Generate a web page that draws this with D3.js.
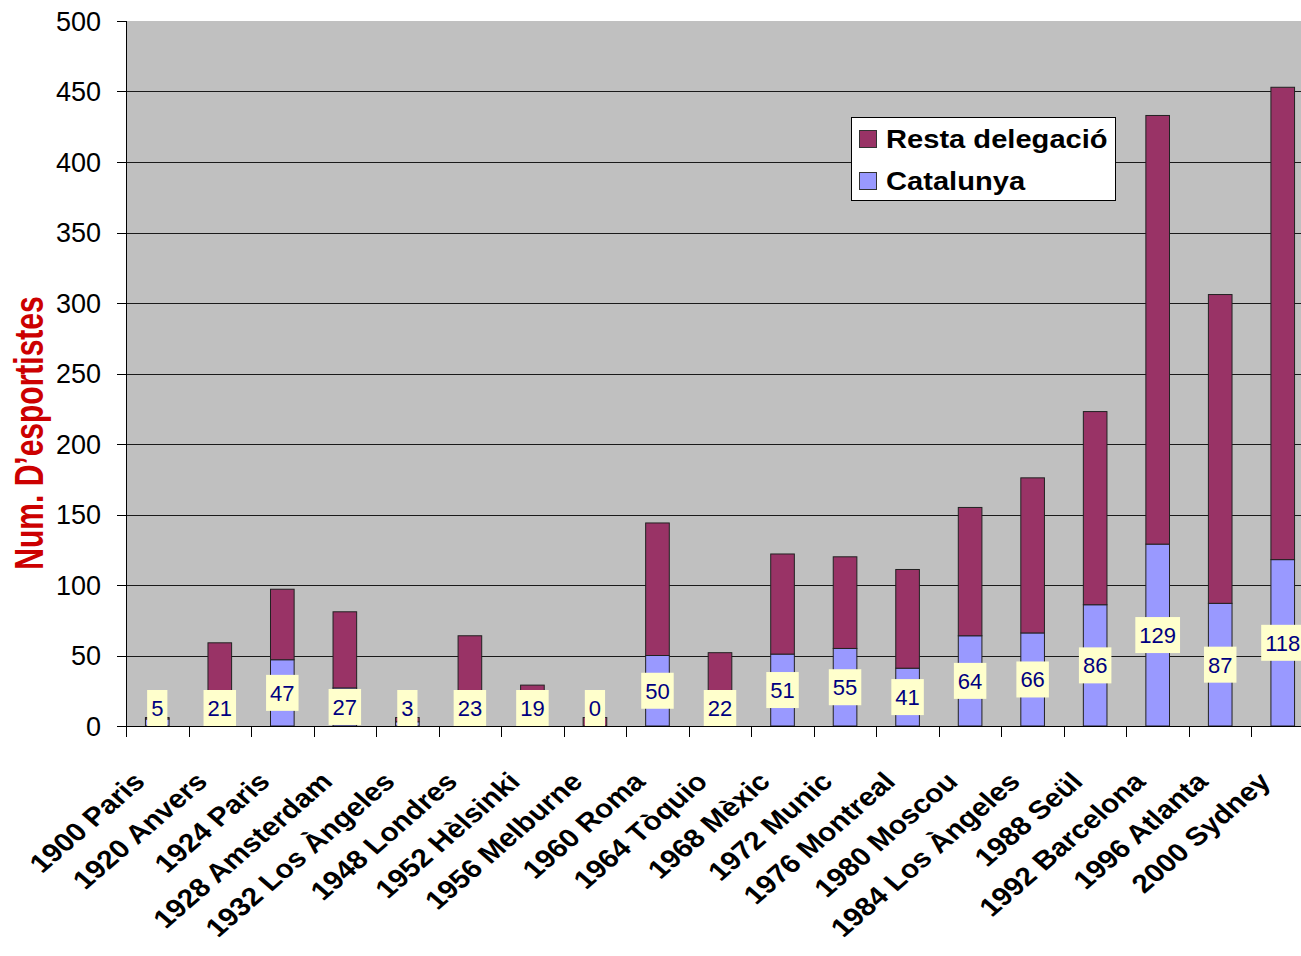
<!DOCTYPE html>
<html><head><meta charset="utf-8">
<script src="https://cdn.jsdelivr.net/npm/d3@7"></script>
<style>body{margin:0;background:#fff}svg{display:block}</style>
</head><body>
<script>
const categories = ["1900 Paris","1920 Anvers","1924 Paris","1928 Amsterdam","1932 Los Àngeles","1948 Londres","1952 Hèlsinki","1956 Melburne","1960 Roma","1964 Tòquio","1968 Mèxic","1972 Munic","1976 Montreal","1980 Moscou","1984 Los Àngeles","1988 Seül","1992 Barcelona","1996 Atlanta","2000 Sydney"];
const catalunya = [5,21,47,27,3,23,19,0,50,22,51,55,41,64,66,86,129,87,118];
const resta = [1,38,50,54,3,41,10,6,94,30,71,65,70,91,110,137,304,219,335];
const yTicks = [0,50,100,150,200,250,300,350,400,450,500];
const seriesNames = ["Resta delegació","Catalunya"];
const colors = {resta:"#993366", cat:"#9999FF"};

const W=1301,H=956;
const L=126,R=1314,T=21,B=726;
const svg=d3.select("body").append("svg").attr("width",W).attr("height",H);
const x=d3.scaleBand().domain(categories).range([L,R]).paddingInner(0.622).paddingOuter(0.311);
const y=d3.scaleLinear().domain([0,500]).range([B,T]);

svg.append("rect").attr("x",L).attr("y",T).attr("width",R-L).attr("height",B-T).attr("fill","#C0C0C0");
// gridlines
svg.append("g").selectAll("line").data(yTicks.filter(d=>d>0&&d<500)).join("line")
  .attr("x1",L).attr("x2",R).attr("y1",d=>Math.round(y(d))+0.5).attr("y2",d=>Math.round(y(d))+0.5)
  .attr("stroke","#1a1a1a").attr("stroke-width",1);

// bars
const data=categories.map((c,i)=>({c,cat:catalunya[i],resta:resta[i]}));
const g=svg.append("g");
g.selectAll("rect.cat").data(data.filter(d=>d.cat>0)).join("rect")
  .attr("x",d=>x(d.c)).attr("width",x.bandwidth())
  .attr("y",d=>y(d.cat)).attr("height",d=>y(0)-y(d.cat))
  .attr("fill",colors.cat).attr("stroke","#222").attr("stroke-width",1);
g.selectAll("rect.resta").data(data).join("rect")
  .attr("x",d=>x(d.c)).attr("width",x.bandwidth())
  .attr("y",d=>y(d.cat+d.resta)).attr("height",d=>y(d.cat)-y(d.cat+d.resta))
  .attr("fill",colors.resta).attr("stroke","#222").attr("stroke-width",1);

// axes
svg.append("line").attr("x1",L+0.5).attr("x2",L+0.5).attr("y1",T).attr("y2",B).attr("stroke","#000");
svg.append("line").attr("x1",L).attr("x2",R).attr("y1",B+0.5).attr("y2",B+0.5).attr("stroke","#000");
svg.append("g").selectAll("line").data(yTicks).join("line")
  .attr("x1",L-9).attr("x2",L).attr("y1",d=>Math.round(y(d))+0.5).attr("y2",d=>Math.round(y(d))+0.5).attr("stroke","#000");
svg.append("g").selectAll("text").data(yTicks).join("text")
  .attr("x",101).attr("y",d=>y(d)).attr("dy","0.36em").attr("text-anchor","end")
  .attr("font-family","Liberation Sans, Arial, sans-serif").attr("font-size",27).attr("fill","#000")
  .text(d=>d);
// x ticks at band boundaries
const bounds=categories.map(c=>x(c)-x.step()*x.paddingInner()/2);
bounds.push(R);
svg.append("g").selectAll("line").data(bounds).join("line")
  .attr("x1",d=>Math.round(d)+0.5).attr("x2",d=>Math.round(d)+0.5).attr("y1",B).attr("y2",B+11).attr("stroke","#000");
// x labels
svg.append("g").selectAll("text").data(categories).join("text")
  .attr("transform",c=>`translate(${x(c)+x.bandwidth()/2-26},${770}) scale(1.15,1) rotate(-45)`)
  .attr("text-anchor","end").attr("dy","0.72em")
  .attr("font-family","Liberation Sans, Arial, sans-serif").attr("font-weight","bold").attr("font-size",26)
  .text(c=>c);

// y title
svg.append("text").attr("transform","translate(28,433) scale(1.35,1) rotate(-90)")
  .attr("text-anchor","middle").attr("dy","0.36em")
  .attr("font-family","Liberation Sans, Arial, sans-serif").attr("font-weight","bold").attr("font-size",30)
  .attr("fill","#CC0000").text("Num. D\u2019esportistes");

// data labels
const lg=svg.append("g");
data.forEach(d=>{
  const cy=Math.min((y(0)+y(d.cat))/2, B-18);
  const cx=x(d.c)+x.bandwidth()/2;
  const t=lg.append("text").attr("x",cx).attr("y",cy).attr("dy","0.36em").attr("text-anchor","middle")
    .attr("font-family","Liberation Sans, Arial, sans-serif").attr("font-size",22).attr("fill","#000080").text(d.cat);
  const w=t.node().getComputedTextLength()+8;
  lg.insert("rect","text").attr("x",cx-w/2).attr("y",cy-18).attr("width",w).attr("height",36).attr("fill","#FFFFCC");
});
lg.selectAll("text").raise();

// legend
const leg=svg.append("g");
leg.append("rect").attr("x",851.5).attr("y",117.5).attr("width",264).attr("height",83).attr("fill","#fff").attr("stroke","#000");
const legItems=[{n:seriesNames[0],c:colors.resta,y:139},{n:seriesNames[1],c:colors.cat,y:181}];
legItems.forEach(it=>{
  leg.append("rect").attr("x",859.5).attr("y",it.y-8.5).attr("width",17).attr("height",17).attr("fill",it.c).attr("stroke","#333");
  leg.append("text").attr("transform",`translate(886,${it.y}) scale(1.12,1)`).attr("dy","0.36em")
    .attr("font-family","Liberation Sans, Arial, sans-serif").attr("font-weight","bold").attr("font-size",26).text(it.n);
});
</script>
</body></html>
